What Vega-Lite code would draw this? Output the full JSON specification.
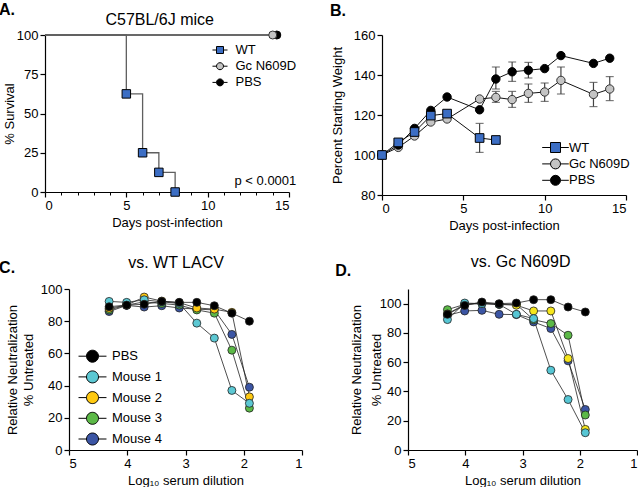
{
  "$schema": "https://vega.github.io/schema/vega-lite/v6.json",
  "background": "white",
  "padding": {"left": -3, "top": 2, "right": 0, "bottom": 0},
  "spacing": 22,
  "resolve": {"scale": {"fill": "independent", "shape": "independent"}},
  "config": {
    "font": "Liberation Sans",
    "view": {"stroke": null},
    "axis": {"domainColor": "black", "tickColor": "black", "labelColor": "black", "titleColor": "black", "labelFontSize": 13, "titleFontSize": 13, "titleFontWeight": "normal", "grid": false, "tickSize": 5, "labelPadding": 2, "domainWidth": 1.2, "tickWidth": 1.2, "titlePadding": 4},
    "legend": {"labelFontSize": 13, "labelColor": "black", "padding": 0, "symbolStrokeColor": "black", "symbolStrokeWidth": 1, "symbolOpacity": 1},
    "text": {"font": "Liberation Sans"}
  },
  "datasets": {
    "surv": [
      {"group": "WT", "day": 0, "pct": 100, "marker": false},
      {"group": "WT", "day": 5, "pct": 62.5, "marker": true},
      {"group": "WT", "day": 6, "pct": 25, "marker": true},
      {"group": "WT", "day": 7, "pct": 12.5, "marker": true},
      {"group": "WT", "day": 8, "pct": 0, "marker": true},
      {"group": "Gc N609D", "day": 0, "pct": 100, "marker": false},
      {"group": "Gc N609D", "day": 14, "pct": 100, "marker": true},
      {"group": "PBS", "day": 0, "pct": 100, "marker": false},
      {"group": "PBS", "day": 14.25, "pct": 100, "marker": true}
    ],
    "weight": [
      {"group": "WT", "day": 0, "mean": 100},
      {"group": "WT", "day": 1, "mean": 106.3},
      {"group": "WT", "day": 2, "mean": 111.5},
      {"group": "WT", "day": 3, "mean": 119.7},
      {"group": "WT", "day": 4, "mean": 120.7},
      {"group": "WT", "day": 6, "mean": 108.5, "lo": 101.3, "hi": 115.8},
      {"group": "WT", "day": 7, "mean": 107.5},
      {"group": "Gc N609D", "day": 0, "mean": 100},
      {"group": "Gc N609D", "day": 1, "mean": 103.8},
      {"group": "Gc N609D", "day": 2, "mean": 109.5},
      {"group": "Gc N609D", "day": 3, "mean": 116.5},
      {"group": "Gc N609D", "day": 4, "mean": 118},
      {"group": "Gc N609D", "day": 6, "mean": 128},
      {"group": "Gc N609D", "day": 7, "mean": 128.8, "lo": 126.3, "hi": 131.8},
      {"group": "Gc N609D", "day": 8, "mean": 127.7, "lo": 123.8, "hi": 131.8},
      {"group": "Gc N609D", "day": 9, "mean": 130.8, "lo": 126.3, "hi": 135.5},
      {"group": "Gc N609D", "day": 10, "mean": 131.5, "lo": 126.8, "hi": 136},
      {"group": "Gc N609D", "day": 11, "mean": 137.3, "lo": 130.5, "hi": 144},
      {"group": "Gc N609D", "day": 13, "mean": 130.3, "lo": 124.2, "hi": 136.3},
      {"group": "Gc N609D", "day": 14, "mean": 133, "lo": 127.2, "hi": 139.2},
      {"group": "PBS", "day": 0, "mean": 100},
      {"group": "PBS", "day": 1, "mean": 105},
      {"group": "PBS", "day": 2, "mean": 113.3},
      {"group": "PBS", "day": 3, "mean": 122.3},
      {"group": "PBS", "day": 4, "mean": 129},
      {"group": "PBS", "day": 6, "mean": 122.6},
      {"group": "PBS", "day": 7, "mean": 138, "lo": 133, "hi": 144},
      {"group": "PBS", "day": 8, "mean": 141.6, "lo": 136.8, "hi": 146.5},
      {"group": "PBS", "day": 9, "mean": 142.4, "lo": 138.5, "hi": 146.3},
      {"group": "PBS", "day": 10, "mean": 143.2},
      {"group": "PBS", "day": 11, "mean": 149.7},
      {"group": "PBS", "day": 13, "mean": 145.8},
      {"group": "PBS", "day": 14, "mean": 148.4}
    ],
    "neutC": [
      {"group": "Mouse 4", "dil": 4.311, "v": 86}, {"group": "Mouse 4", "dil": 4.01, "v": 89.8}, {"group": "Mouse 4", "dil": 3.709, "v": 88.8}, {"group": "Mouse 4", "dil": 3.408, "v": 89.6}, {"group": "Mouse 4", "dil": 3.107, "v": 88.2}, {"group": "Mouse 4", "dil": 2.806, "v": 87.5}, {"group": "Mouse 4", "dil": 2.505, "v": 87}, {"group": "Mouse 4", "dil": 2.204, "v": 71.8}, {"group": "Mouse 4", "dil": 1.903, "v": 39},
      {"group": "Mouse 3", "dil": 4.311, "v": 87}, {"group": "Mouse 3", "dil": 4.01, "v": 90}, {"group": "Mouse 3", "dil": 3.709, "v": 92}, {"group": "Mouse 3", "dil": 3.408, "v": 91}, {"group": "Mouse 3", "dil": 3.107, "v": 90}, {"group": "Mouse 3", "dil": 2.806, "v": 87}, {"group": "Mouse 3", "dil": 2.505, "v": 85}, {"group": "Mouse 3", "dil": 2.204, "v": 62}, {"group": "Mouse 3", "dil": 1.903, "v": 26},
      {"group": "Mouse 2", "dil": 4.311, "v": 88}, {"group": "Mouse 2", "dil": 4.01, "v": 90}, {"group": "Mouse 2", "dil": 3.709, "v": 95}, {"group": "Mouse 2", "dil": 3.408, "v": 92.5}, {"group": "Mouse 2", "dil": 3.107, "v": 91.5}, {"group": "Mouse 2", "dil": 2.806, "v": 88.2}, {"group": "Mouse 2", "dil": 2.505, "v": 87.5}, {"group": "Mouse 2", "dil": 2.204, "v": 85.5}, {"group": "Mouse 2", "dil": 1.903, "v": 33},
      {"group": "Mouse 1", "dil": 4.311, "v": 92.3}, {"group": "Mouse 1", "dil": 4.01, "v": 91.7}, {"group": "Mouse 1", "dil": 3.709, "v": 93.3}, {"group": "Mouse 1", "dil": 3.408, "v": 92}, {"group": "Mouse 1", "dil": 3.107, "v": 91}, {"group": "Mouse 1", "dil": 2.806, "v": 78.8}, {"group": "Mouse 1", "dil": 2.505, "v": 69.5}, {"group": "Mouse 1", "dil": 2.204, "v": 37}, {"group": "Mouse 1", "dil": 1.903, "v": 29},
      {"group": "PBS", "dil": 4.311, "v": 89}, {"group": "PBS", "dil": 4.01, "v": 90}, {"group": "PBS", "dil": 3.709, "v": 90.5}, {"group": "PBS", "dil": 3.408, "v": 92.3}, {"group": "PBS", "dil": 3.107, "v": 91.7}, {"group": "PBS", "dil": 2.806, "v": 91.7}, {"group": "PBS", "dil": 2.505, "v": 89.6}, {"group": "PBS", "dil": 2.204, "v": 85}, {"group": "PBS", "dil": 1.903, "v": 80}
    ],
    "neutD": [
      {"group": "Mouse 4", "dil": 4.311, "v": 92}, {"group": "Mouse 4", "dil": 4.01, "v": 95}, {"group": "Mouse 4", "dil": 3.709, "v": 95.4}, {"group": "Mouse 4", "dil": 3.408, "v": 92.7}, {"group": "Mouse 4", "dil": 3.107, "v": 92.5}, {"group": "Mouse 4", "dil": 2.806, "v": 87.5}, {"group": "Mouse 4", "dil": 2.505, "v": 83}, {"group": "Mouse 4", "dil": 2.204, "v": 60.9}, {"group": "Mouse 4", "dil": 1.903, "v": 27.7},
      {"group": "Mouse 3", "dil": 4.311, "v": 95.9}, {"group": "Mouse 3", "dil": 4.01, "v": 99.5}, {"group": "Mouse 3", "dil": 3.709, "v": 100}, {"group": "Mouse 3", "dil": 3.408, "v": 99.5}, {"group": "Mouse 3", "dil": 3.107, "v": 99.5}, {"group": "Mouse 3", "dil": 2.806, "v": 89}, {"group": "Mouse 3", "dil": 2.505, "v": 86.4}, {"group": "Mouse 3", "dil": 2.204, "v": 78.4}, {"group": "Mouse 3", "dil": 1.903, "v": 23.9},
      {"group": "Mouse 2", "dil": 4.311, "v": 93}, {"group": "Mouse 2", "dil": 4.01, "v": 99.5}, {"group": "Mouse 2", "dil": 3.709, "v": 100.5}, {"group": "Mouse 2", "dil": 3.408, "v": 99.5}, {"group": "Mouse 2", "dil": 3.107, "v": 98.9}, {"group": "Mouse 2", "dil": 2.806, "v": 95}, {"group": "Mouse 2", "dil": 2.505, "v": 95}, {"group": "Mouse 2", "dil": 2.204, "v": 62.5}, {"group": "Mouse 2", "dil": 1.903, "v": 14.1},
      {"group": "Mouse 1", "dil": 4.311, "v": 89.1}, {"group": "Mouse 1", "dil": 4.01, "v": 100.4}, {"group": "Mouse 1", "dil": 3.709, "v": 100}, {"group": "Mouse 1", "dil": 3.408, "v": 99.5}, {"group": "Mouse 1", "dil": 3.107, "v": 92.7}, {"group": "Mouse 1", "dil": 2.806, "v": 89.8}, {"group": "Mouse 1", "dil": 2.505, "v": 54.5}, {"group": "Mouse 1", "dil": 2.204, "v": 34.5}, {"group": "Mouse 1", "dil": 1.903, "v": 11.8},
      {"group": "PBS", "dil": 4.311, "v": 92.7}, {"group": "PBS", "dil": 4.01, "v": 98.8}, {"group": "PBS", "dil": 3.709, "v": 101.1}, {"group": "PBS", "dil": 3.408, "v": 100}, {"group": "PBS", "dil": 3.107, "v": 100.4}, {"group": "PBS", "dil": 2.806, "v": 102.7}, {"group": "PBS", "dil": 2.505, "v": 102.7}, {"group": "PBS", "dil": 2.204, "v": 97.7}, {"group": "PBS", "dil": 1.903, "v": 94.3}
    ]
  },
  "vconcat": [
    {
      "spacing": 0,
      "resolve": {"scale": {"fill": "independent", "shape": "independent"}},
      "hconcat": [
        {"width": 1, "height": 1, "data": {"values": []}, "mark": {"type": "point", "opacity": 0}},
        {
          "spacing": 32,
          "resolve": {"scale": {"fill": "independent", "shape": "independent"}},
          "hconcat": [
            {
              "width": 244,
              "height": 157,
              "resolve": {"axis": {"x": "independent"}},
              "layer": [
                {
                  "data": {"name": "surv"},
                  "mark": {"type": "line", "interpolate": "step-after", "color": "#5f5f5f", "strokeWidth": 1.3},
                  "encoding": {
                    "x": {"field": "day", "type": "quantitative", "scale": {"domain": [0, 15], "nice": false}, "axis": {"values": [0, 5, 10, 15], "title": "Days post-infection", "titlePadding": 4}},
                    "y": {"field": "pct", "type": "quantitative", "scale": {"domain": [0, 100], "nice": false}, "axis": {"values": [0, 25, 50, 75, 100], "title": "% Survival", "titlePadding": 0}},
                    "detail": {"field": "group"}
                  }
                },
                {
                  "data": {"name": "surv"},
                  "transform": [{"filter": "datum.marker && datum.group == 'PBS'"}],
                  "mark": {"type": "point", "shape": "circle", "filled": true, "stroke": "black", "strokeWidth": 1, "size": 64, "opacity": 1},
                  "encoding": {
                    "x": {"field": "day", "type": "quantitative", "axis": null},
                    "y": {"field": "pct", "type": "quantitative", "axis": {"values": [0, 25, 50, 75, 100], "title": "% Survival", "titlePadding": 0}},
                    "fill": {"field": "group", "type": "nominal", "scale": {"domain": ["WT", "Gc N609D", "PBS"], "range": ["#3c6ec4", "#c4c4c4", "#000000"]}}
                  }
                },
                {
                  "data": {"name": "surv"},
                  "transform": [{"filter": "datum.marker && datum.group == 'Gc N609D'"}],
                  "mark": {"type": "point", "shape": "circle", "filled": true, "stroke": "#333333", "strokeWidth": 1, "size": 64, "opacity": 1},
                  "encoding": {
                    "x": {"field": "day", "type": "quantitative", "axis": null},
                    "y": {"field": "pct", "type": "quantitative", "axis": {"values": [0, 25, 50, 75, 100], "title": "% Survival", "titlePadding": 0}},
                    "fill": {"field": "group", "type": "nominal"}
                  }
                },
                {
                  "data": {"name": "surv"},
                  "transform": [{"filter": "datum.marker && datum.group == 'WT'"}],
                  "mark": {"type": "point", "shape": "square", "filled": true, "stroke": "black", "strokeWidth": 1, "size": 72, "opacity": 1},
                  "encoding": {
                    "x": {"field": "day", "type": "quantitative", "axis": null},
                    "y": {"field": "pct", "type": "quantitative", "axis": {"values": [0, 25, 50, 75, 100], "title": "% Survival", "titlePadding": 0}},
                    "fill": {"field": "group", "type": "nominal"}
                  }
                },
                {
                  "data": {"name": "surv"},
                  "transform": [{"filter": "datum.marker"}],
                  "mark": {"type": "point", "filled": true, "stroke": "black", "strokeWidth": 1, "opacity": 0},
                  "encoding": {
                    "x": {"field": "day", "type": "quantitative", "axis": null},
                    "y": {"field": "pct", "type": "quantitative", "axis": {"values": [0, 25, 50, 75, 100], "title": "% Survival", "titlePadding": 0}},
                    "fill": {"field": "group", "type": "nominal", "legend": {"title": null, "orient": "none", "legendX": 160.5, "legendY": 8.5, "symbolSize": 49, "symbolOffset": 8, "labelOffset": 9, "rowPadding": 2.2, "symbolStrokeColor": "black", "symbolStrokeWidth": 1, "encode": {"symbols": {"update": {"stroke": {"value": "black"}, "strokeWidth": {"value": 1}, "opacity": {"value": 1}}}}}},
                    "shape": {"field": "group", "type": "nominal", "scale": {"domain": ["WT", "Gc N609D", "PBS"], "range": ["M-2.15,0H-1M1,0H2.15M-1,-1H1V1H-1Z", "M-2.15,0H-1M1,0H2.15M1,0A1,1,0,1,1,-1,0A1,1,0,1,1,1,0Z", "M-2.15,0H-1M1,0H2.15M1,0A1,1,0,1,1,-1,0A1,1,0,1,1,1,0Z"]}, "legend": {"title": null, "orient": "none", "legendX": 160.5, "legendY": 8.5, "symbolSize": 49, "symbolOffset": 8, "labelOffset": 9, "rowPadding": 2.2, "symbolStrokeColor": "black", "symbolStrokeWidth": 1, "encode": {"symbols": {"update": {"stroke": {"value": "black"}, "strokeWidth": {"value": 1}, "opacity": {"value": 1}}}}}}
                  }
                },
                {
                  "data": {"values": [{}]},
                  "mark": {"type": "text", "text": "p < 0.0001", "align": "right", "baseline": "alphabetic", "fontSize": 13, "color": "black"},
                  "encoding": {
                    "x": {"datum": 15.45, "type": "quantitative", "axis": {"orient": "bottom", "values": [1, 2, 3, 4, 6, 7, 8, 9, 11, 12, 13, 14], "tickSize": 3, "labels": false, "domain": false, "title": null, "tickWidth": 1}},
                    "y": {"datum": 4.5, "type": "quantitative", "axis": {"values": [0, 25, 50, 75, 100], "title": "% Survival", "titlePadding": 0}}
                  }
                },
                {
                  "data": {"values": [{}]},
                  "mark": {"type": "text", "text": "C57BL/6J mice", "align": "center", "baseline": "alphabetic", "fontSize": 16, "color": "black"},
                  "encoding": {
                    "x": {"datum": 7.05, "type": "quantitative", "axis": null},
                    "y": {"datum": 106.4, "type": "quantitative", "axis": {"values": [0, 25, 50, 75, 100], "title": "% Survival", "titlePadding": 0}}
                  }
                },
                {
                  "data": {"values": [{}]},
                  "mark": {"type": "text", "text": "A.", "align": "left", "baseline": "alphabetic", "fontSize": 16, "fontWeight": "bold", "color": "black"},
                  "encoding": {
                    "x": {"datum": -2.83, "type": "quantitative", "axis": null},
                    "y": {"datum": 112.7, "type": "quantitative", "axis": {"values": [0, 25, 50, 75, 100], "title": "% Survival", "titlePadding": 0}}
                  }
                }
              ]
            },
            {
              "width": 244,
              "height": 160,
              "layer": [
                {
                  "data": {"name": "weight"},
                  "transform": [{"filter": "isValid(datum.lo)"}],
                  "mark": {"type": "rule", "color": "#444444", "strokeWidth": 1.2},
                  "encoding": {
                    "x": {"field": "day", "type": "quantitative", "axis": {"values": [0, 5, 10, 15], "title": "Days post-infection", "titlePadding": 4}},
                    "y": {"field": "lo", "type": "quantitative", "axis": {"values": [80, 100, 120, 140, 160], "title": "Percent Starting Weight", "titlePadding": 9}},
                    "y2": {"field": "hi"}
                  }
                },
                {
                  "data": {"name": "weight"},
                  "transform": [{"filter": "isValid(datum.lo)"}],
                  "mark": {"type": "tick", "orient": "horizontal", "color": "#444444", "thickness": 1.2, "size": 8},
                  "encoding": {
                    "x": {"field": "day", "type": "quantitative", "axis": {"values": [0, 5, 10, 15], "title": "Days post-infection", "titlePadding": 4}},
                    "y": {"field": "lo", "type": "quantitative", "axis": {"values": [80, 100, 120, 140, 160], "title": "Percent Starting Weight", "titlePadding": 9}}
                  }
                },
                {
                  "data": {"name": "weight"},
                  "transform": [{"filter": "isValid(datum.lo)"}],
                  "mark": {"type": "tick", "orient": "horizontal", "color": "#444444", "thickness": 1.2, "size": 8},
                  "encoding": {
                    "x": {"field": "day", "type": "quantitative", "axis": {"values": [0, 5, 10, 15], "title": "Days post-infection", "titlePadding": 4}},
                    "y": {"field": "hi", "type": "quantitative", "axis": {"values": [80, 100, 120, 140, 160], "title": "Percent Starting Weight", "titlePadding": 9}}
                  }
                },
                {
                  "data": {"name": "weight"},
                  "mark": {"type": "line", "color": "#111111", "strokeWidth": 1},
                  "encoding": {
                    "x": {"field": "day", "type": "quantitative", "scale": {"domain": [0, 15], "nice": false}, "axis": {"values": [0, 5, 10, 15], "title": "Days post-infection", "titlePadding": 4}},
                    "y": {"field": "mean", "type": "quantitative", "scale": {"domain": [80, 160], "nice": false, "zero": false}, "axis": {"values": [80, 100, 120, 140, 160], "title": "Percent Starting Weight", "titlePadding": 9}},
                    "detail": {"field": "group"}
                  }
                },
                {
                  "data": {"name": "weight"},
                  "transform": [{"filter": "datum.group == 'Gc N609D'"}],
                  "mark": {"type": "point", "shape": "circle", "filled": true, "stroke": "#333333", "strokeWidth": 1, "size": 70, "opacity": 1},
                  "encoding": {
                    "x": {"field": "day", "type": "quantitative", "axis": {"values": [0, 5, 10, 15], "title": "Days post-infection", "titlePadding": 4}},
                    "y": {"field": "mean", "type": "quantitative", "axis": {"values": [80, 100, 120, 140, 160], "title": "Percent Starting Weight", "titlePadding": 9}},
                    "fill": {"field": "group", "type": "nominal", "scale": {"domain": ["WT", "Gc N609D", "PBS"], "range": ["#3c6ec4", "#c4c4c4", "#000000"]}}
                  }
                },
                {
                  "data": {"name": "weight"},
                  "transform": [{"filter": "datum.group == 'PBS'"}],
                  "mark": {"type": "point", "shape": "circle", "filled": true, "stroke": "black", "strokeWidth": 1, "size": 70, "opacity": 1},
                  "encoding": {
                    "x": {"field": "day", "type": "quantitative", "axis": {"values": [0, 5, 10, 15], "title": "Days post-infection", "titlePadding": 4}},
                    "y": {"field": "mean", "type": "quantitative", "axis": {"values": [80, 100, 120, 140, 160], "title": "Percent Starting Weight", "titlePadding": 9}},
                    "fill": {"field": "group", "type": "nominal"}
                  }
                },
                {
                  "data": {"name": "weight"},
                  "transform": [{"filter": "datum.group == 'WT'"}],
                  "mark": {"type": "point", "shape": "square", "filled": true, "stroke": "black", "strokeWidth": 1, "size": 75, "opacity": 1},
                  "encoding": {
                    "x": {"field": "day", "type": "quantitative", "axis": {"values": [0, 5, 10, 15], "title": "Days post-infection", "titlePadding": 4}},
                    "y": {"field": "mean", "type": "quantitative", "axis": {"values": [80, 100, 120, 140, 160], "title": "Percent Starting Weight", "titlePadding": 9}},
                    "fill": {"field": "group", "type": "nominal"}
                  }
                },
                {
                  "data": {"name": "weight"},
                  "mark": {"type": "point", "filled": true, "stroke": "black", "strokeWidth": 1, "opacity": 0},
                  "encoding": {
                    "x": {"field": "day", "type": "quantitative", "axis": {"values": [0, 5, 10, 15], "title": "Days post-infection", "titlePadding": 4}},
                    "y": {"field": "mean", "type": "quantitative", "axis": {"values": [80, 100, 120, 140, 160], "title": "Percent Starting Weight", "titlePadding": 9}},
                    "fill": {"field": "group", "type": "nominal", "legend": {"title": null, "orient": "none", "legendX": 158, "legendY": 106, "symbolSize": 100, "symbolOffset": 9, "labelOffset": 7, "rowPadding": 1.4, "symbolStrokeColor": "black", "symbolStrokeWidth": 1, "encode": {"symbols": {"update": {"stroke": {"value": "black"}, "strokeWidth": {"value": 1}, "opacity": {"value": 1}}}}}},
                    "shape": {"field": "group", "type": "nominal", "scale": {"domain": ["WT", "Gc N609D", "PBS"], "range": ["M-2.66,0H-1M1,0H2.66M-1,-1H1V1H-1Z", "M-2.66,0H-1M1,0H2.66M1,0A1,1,0,1,1,-1,0A1,1,0,1,1,1,0Z", "M-2.66,0H-1M1,0H2.66M1,0A1,1,0,1,1,-1,0A1,1,0,1,1,1,0Z"]}, "legend": {"title": null, "orient": "none", "legendX": 158, "legendY": 106, "symbolSize": 100, "symbolOffset": 9, "labelOffset": 7, "rowPadding": 1.4, "symbolStrokeColor": "black", "symbolStrokeWidth": 1, "encode": {"symbols": {"update": {"stroke": {"value": "black"}, "strokeWidth": {"value": 1}, "opacity": {"value": 1}}}}}}
                  }
                },
                {
                  "data": {"values": [{}]},
                  "mark": {"type": "text", "text": "B.", "align": "left", "baseline": "alphabetic", "fontSize": 16, "fontWeight": "bold", "color": "black"},
                  "encoding": {
                    "x": {"datum": -3.2, "type": "quantitative", "axis": {"values": [0, 5, 10, 15], "title": "Days post-infection", "titlePadding": 4}},
                    "y": {"datum": 169.7, "type": "quantitative", "axis": {"values": [80, 100, 120, 140, 160], "title": "Percent Starting Weight", "titlePadding": 9}}
                  }
                }
              ]
            }
          ]
        }
      ]
    },
    {
      "spacing": 0,
      "resolve": {"scale": {"fill": "independent", "shape": "independent"}},
      "hconcat": [
        {"width": 2, "height": 1, "data": {"values": []}, "mark": {"type": "point", "opacity": 0}},
        {
          "spacing": 32,
          "resolve": {"scale": {"fill": "independent", "shape": "independent"}},
          "hconcat": [
            {
              "width": 233,
              "height": 161,
              "layer": [
                {
                  "data": {"name": "neutC"},
                  "mark": {"type": "line", "color": "#222222", "strokeWidth": 0.8},
                  "encoding": {
                    "x": {"field": "dil", "type": "quantitative", "scale": {"domain": [1, 5], "reverse": true, "nice": false}, "axis": {"values": [1, 2, 3, 4, 5], "title": "Log₁₀ serum dilution", "titlePadding": 4}},
                    "y": {"field": "v", "type": "quantitative", "scale": {"domain": [0, 100], "nice": false}, "axis": {"values": [0, 20, 40, 60, 80, 100], "title": ["Relative Neutralization", "% Untreated"], "titlePadding": 5, "titleLineHeight": 15.5}},
                    "detail": {"field": "group"}
                  }
                },
                {
                  "data": {"name": "neutC"},
                  "mark": {"type": "point", "shape": "circle", "filled": true, "stroke": "#222222", "strokeWidth": 0.8, "size": 64, "opacity": 1},
                  "encoding": {
                    "x": {"field": "dil", "type": "quantitative", "axis": {"values": [1, 2, 3, 4, 5], "title": "Log₁₀ serum dilution", "titlePadding": 4}},
                    "y": {"field": "v", "type": "quantitative", "axis": {"values": [0, 20, 40, 60, 80, 100], "title": ["Relative Neutralization", "% Untreated"], "titlePadding": 5, "titleLineHeight": 15.5}},
                    "fill": {"field": "group", "type": "nominal", "scale": {"domain": ["PBS", "Mouse 1", "Mouse 2", "Mouse 3", "Mouse 4"], "range": ["#000000", "#5cc8d3", "#ffc910", "#5cb947", "#3b55a4"]}}
                  }
                },
                {
                  "data": {"name": "neutC"},
                  "mark": {"type": "point", "filled": true, "stroke": "black", "strokeWidth": 1, "opacity": 0},
                  "encoding": {
                    "x": {"field": "dil", "type": "quantitative", "axis": {"values": [1, 2, 3, 4, 5], "title": "Log₁₀ serum dilution", "titlePadding": 4}},
                    "y": {"field": "v", "type": "quantitative", "axis": {"values": [0, 20, 40, 60, 80, 100], "title": ["Relative Neutralization", "% Untreated"], "titlePadding": 5, "titleLineHeight": 15.5}},
                    "fill": {"field": "group", "type": "nominal", "legend": {"title": null, "orient": "none", "legendX": 8, "legendY": 60.7, "symbolSize": 144, "symbolOffset": 9, "labelOffset": 13, "rowPadding": 3.7, "symbolStrokeColor": "black", "symbolStrokeWidth": 1, "encode": {"symbols": {"update": {"stroke": {"value": "black"}, "strokeWidth": {"value": 1}, "opacity": {"value": 1}}}}}},
                    "shape": {"field": "group", "type": "nominal", "scale": {"domain": ["PBS", "Mouse 1", "Mouse 2", "Mouse 3", "Mouse 4"], "range": ["M-2.33,0H-1M1,0H2.33M1,0A1,1,0,1,1,-1,0A1,1,0,1,1,1,0Z", "M-2.33,0H-1M1,0H2.33M1,0A1,1,0,1,1,-1,0A1,1,0,1,1,1,0Z", "M-2.33,0H-1M1,0H2.33M1,0A1,1,0,1,1,-1,0A1,1,0,1,1,1,0Z", "M-2.33,0H-1M1,0H2.33M1,0A1,1,0,1,1,-1,0A1,1,0,1,1,1,0Z", "M-2.33,0H-1M1,0H2.33M1,0A1,1,0,1,1,-1,0A1,1,0,1,1,1,0Z"]}, "legend": {"title": null, "orient": "none", "legendX": 8, "legendY": 60.7, "symbolSize": 144, "symbolOffset": 9, "labelOffset": 13, "rowPadding": 3.7, "symbolStrokeColor": "black", "symbolStrokeWidth": 1, "encode": {"symbols": {"update": {"stroke": {"value": "black"}, "strokeWidth": {"value": 1}, "opacity": {"value": 1}}}}}}
                  }
                },
                {
                  "data": {"values": [{}]},
                  "mark": {"type": "text", "text": "vs. WT LACV", "align": "center", "baseline": "alphabetic", "fontSize": 16, "color": "black"},
                  "encoding": {
                    "x": {"datum": 3.163, "type": "quantitative", "axis": {"values": [1, 2, 3, 4, 5], "title": "Log₁₀ serum dilution", "titlePadding": 4}},
                    "y": {"datum": 113, "type": "quantitative", "axis": {"values": [0, 20, 40, 60, 80, 100], "title": ["Relative Neutralization", "% Untreated"], "titlePadding": 5, "titleLineHeight": 15.5}}
                  }
                },
                {
                  "data": {"values": [{}]},
                  "mark": {"type": "text", "text": "C.", "align": "left", "baseline": "alphabetic", "fontSize": 16, "fontWeight": "bold", "color": "black"},
                  "encoding": {
                    "x": {"datum": 6.2, "type": "quantitative", "axis": {"values": [1, 2, 3, 4, 5], "title": "Log₁₀ serum dilution", "titlePadding": 4}},
                    "y": {"datum": 110.1, "type": "quantitative", "axis": {"values": [0, 20, 40, 60, 80, 100], "title": ["Relative Neutralization", "% Untreated"], "titlePadding": 5, "titleLineHeight": 15.5}}
                  }
                }
              ]
            },
            {
              "width": 229,
              "height": 161,
              "layer": [
                {
                  "data": {"name": "neutD"},
                  "mark": {"type": "line", "color": "#222222", "strokeWidth": 0.8},
                  "encoding": {
                    "x": {"field": "dil", "type": "quantitative", "scale": {"domain": [1, 5], "reverse": true, "nice": false}, "axis": {"values": [1, 2, 3, 4, 5], "title": "Log₁₀ serum dilution", "titlePadding": 4}},
                    "y": {"field": "v", "type": "quantitative", "scale": {"domain": [0, 110], "nice": false}, "axis": {"values": [0, 20, 40, 60, 80, 100], "title": ["Relative Neutralization", "% Untreated"], "titlePadding": -4, "titleLineHeight": 19.5}},
                    "detail": {"field": "group"}
                  }
                },
                {
                  "data": {"name": "neutD"},
                  "mark": {"type": "point", "shape": "circle", "filled": true, "stroke": "#222222", "strokeWidth": 0.8, "size": 64, "opacity": 1},
                  "encoding": {
                    "x": {"field": "dil", "type": "quantitative", "axis": {"values": [1, 2, 3, 4, 5], "title": "Log₁₀ serum dilution", "titlePadding": 4}},
                    "y": {"field": "v", "type": "quantitative", "axis": {"values": [0, 20, 40, 60, 80, 100], "title": ["Relative Neutralization", "% Untreated"], "titlePadding": -4, "titleLineHeight": 19.5}},
                    "fill": {"field": "group", "type": "nominal", "scale": {"domain": ["PBS", "Mouse 1", "Mouse 2", "Mouse 3", "Mouse 4"], "range": ["#000000", "#56c6d4", "#f6e61c", "#5cb947", "#3b55a4"]}, "legend": null}
                  }
                },
                {
                  "data": {"values": [{}]},
                  "mark": {"type": "text", "text": "vs. Gc N609D", "align": "center", "baseline": "alphabetic", "fontSize": 16, "color": "black"},
                  "encoding": {
                    "x": {"datum": 3.032, "type": "quantitative", "axis": {"values": [1, 2, 3, 4, 5], "title": "Log₁₀ serum dilution", "titlePadding": 4}},
                    "y": {"datum": 124.9, "type": "quantitative", "axis": {"values": [0, 20, 40, 60, 80, 100], "title": ["Relative Neutralization", "% Untreated"], "titlePadding": -4, "titleLineHeight": 19.5}}
                  }
                },
                {
                  "data": {"values": [{}]},
                  "mark": {"type": "text", "text": "D.", "align": "left", "baseline": "alphabetic", "fontSize": 16, "fontWeight": "bold", "color": "black"},
                  "encoding": {
                    "x": {"datum": 6.27, "type": "quantitative", "axis": {"values": [1, 2, 3, 4, 5], "title": "Log₁₀ serum dilution", "titlePadding": 4}},
                    "y": {"datum": 118.6, "type": "quantitative", "axis": {"values": [0, 20, 40, 60, 80, 100], "title": ["Relative Neutralization", "% Untreated"], "titlePadding": -4, "titleLineHeight": 19.5}}
                  }
                }
              ]
            }
          ]
        }
      ]
    }
  ]
}
